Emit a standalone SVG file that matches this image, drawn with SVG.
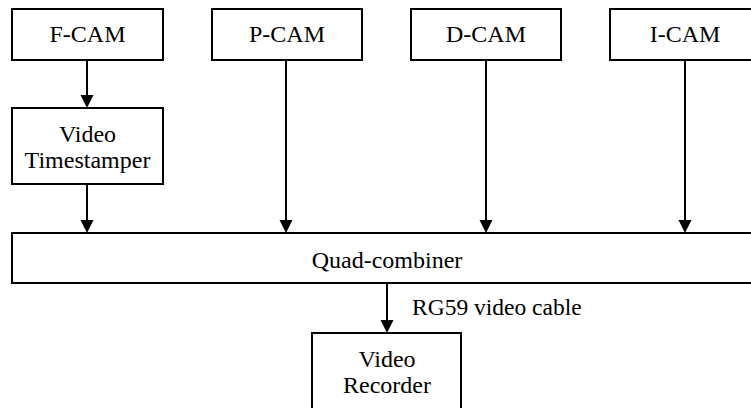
<svg xmlns="http://www.w3.org/2000/svg" width="751" height="408" viewBox="0 0 751 408">
  <style>
    .box { fill: #ffffff; stroke: #000000; stroke-width: 2; }
    .lbl { font-family: "Liberation Serif", "Times New Roman", serif; font-size: 24px; fill: #000000; text-anchor: middle; }
    .note { font-family: "Liberation Serif", "Times New Roman", serif; font-size: 23.5px; fill: #000000; }
    .wire { stroke: #000000; stroke-width: 2; fill: none; marker-end: url(#arrow); }
  </style>
  <defs>
    <marker id="arrow" markerUnits="userSpaceOnUse" markerWidth="14" markerHeight="14" refX="8" refY="6.5" orient="auto">
      <path d="M0,0 L13,6.5 L0,13 Z" fill="#000000"/>
    </marker>
  </defs>
  <rect width="751" height="408" fill="#ffffff"/>

  <!-- connectors -->
  <g id="connectors">
    <line class="wire" x1="87" y1="60" x2="87" y2="103"/>
    <line class="wire" x1="87" y1="184" x2="87" y2="228"/>
    <line class="wire" x1="286" y1="60" x2="286" y2="228"/>
    <line class="wire" x1="486" y1="60" x2="486" y2="228"/>
    <line class="wire" x1="685" y1="60" x2="685" y2="228"/>
    <line class="wire" x1="387" y1="283" x2="387" y2="328"/>
    <text class="note" x="412" y="315">RG59 video cable</text>
  </g>

  <!-- cameras -->
  <g id="f-cam">
    <rect class="box" x="12" y="9" width="151" height="51"/>
    <text class="lbl" x="87.5" y="42">F-CAM</text>
  </g>
  <g id="p-cam">
    <rect class="box" x="212" y="9" width="150" height="51"/>
    <text class="lbl" x="287" y="42">P-CAM</text>
  </g>
  <g id="d-cam">
    <rect class="box" x="411" y="9" width="150" height="51"/>
    <text class="lbl" x="486" y="42">D-CAM</text>
  </g>
  <g id="i-cam">
    <rect class="box" x="610" y="9" width="150" height="51"/>
    <text class="lbl" x="685" y="42">I-CAM</text>
  </g>

  <!-- timestamper -->
  <g id="timestamper">
    <rect class="box" x="12" y="108" width="151" height="76"/>
    <text class="lbl" x="87.5" y="142">Video</text>
    <text class="lbl" x="87.5" y="168">Timestamper</text>
  </g>

  <!-- combiner -->
  <g id="quad-combiner">
    <rect class="box" x="12" y="233" width="750" height="50"/>
    <text class="lbl" x="387" y="268">Quad-combiner</text>
  </g>

  <!-- recorder -->
  <g id="video-recorder">
    <rect class="box" x="312" y="333" width="149" height="85"/>
    <text class="lbl" x="387" y="367">Video</text>
    <text class="lbl" x="387" y="393">Recorder</text>
  </g>
</svg>
